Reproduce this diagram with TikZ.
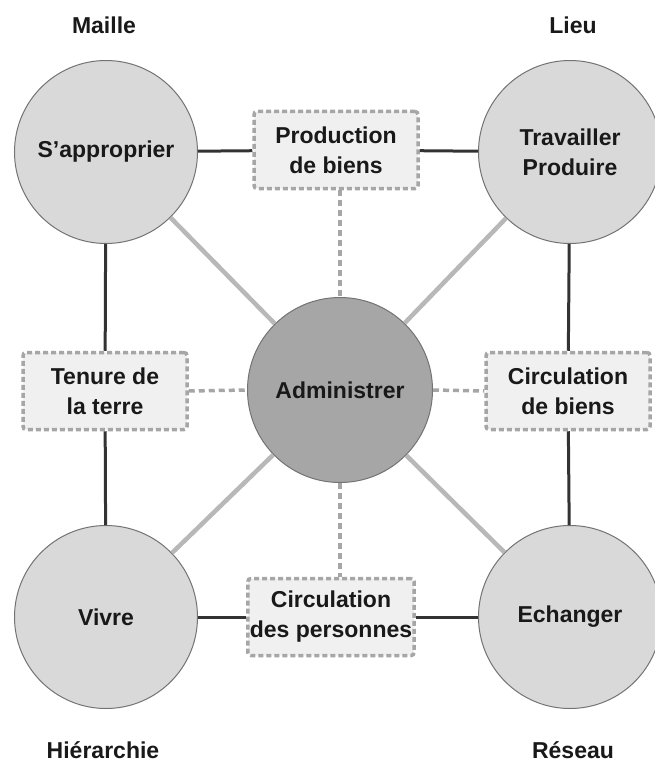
\documentclass[tikz,border=0pt]{standalone}
\usepackage{fontspec}
\setmainfont{Liberation Sans}
\begin{document}
\begin{tikzpicture}[x=1pt,y=-1pt,
  every node/.style={font=\fontsize{23}{30}\selectfont\bfseries, text=black!90},
  role/.style={circle, draw=black!55, line width=1pt, fill=black!15, minimum size=183pt, inner sep=0pt, align=center},
  core/.style={circle, draw=black!55, line width=1pt, fill=black!35, minimum size=185pt, inner sep=0pt, align=center},
  flowbox/.style={rectangle, rounded corners=3pt, draw=black!35, dash pattern=on 5pt off 3pt, line width=3.5pt, fill=black!6, minimum width=164pt, minimum height=77pt, inner sep=2pt, align=center},
  caption/.style={inner sep=0pt},
  solidlink/.style={draw=black!80, line width=3pt},
  spoke/.style={draw=black!28, line width=4.5pt},
  dashlink/.style={draw=black!35, line width=3.5pt, dash pattern=on 6pt off 4pt}
]
\useasboundingbox (0,0) rectangle (655,762);

% outer activities
\node[role] (sapp) at (106,152) {S'approprier};
\node[role] (trav) at (570,152) {Travailler\\Produire};
\node[role] (vivre) at (106,617) {Vivre};
\node[role] (ech) at (570,617) {Echanger};

% central activity
\node[core] (adm) at (340,390) {Administrer};

% flows between activities
\node[flowbox] (prod) at (336,150) {Production\\de biens};
\node[flowbox] (tenure) at (105,391) {Tenure de\\la terre};
\node[flowbox] (cbiens) at (568,391) {Circulation\\de biens};
\node[flowbox] (cpers) at (331,617) {Circulation\\des personnes};

% scale labels
\node[caption] (maille) at (104,25) {Maille};
\node[caption] (lieu) at (573,25) {Lieu};
\node[caption] (hier) at (103,750) {Hiérarchie};
\node[caption] (reseau) at (573,750) {Réseau};

% spokes to the centre
\path[spoke] (sapp) -- (adm);
\path[spoke] (trav) -- (adm);
\path[spoke] (vivre) -- (adm);
\path[spoke] (ech) -- (adm);

% solid links around the square
\path[solidlink] (sapp) -- (prod);
\path[solidlink] (prod) -- (trav);
\path[solidlink] (sapp) -- (tenure);
\path[solidlink] (tenure) -- (vivre);
\path[solidlink] (trav) -- (cbiens);
\path[solidlink] (cbiens) -- (ech);
\path[solidlink] (vivre) -- (cpers);
\path[solidlink] (cpers) -- (ech);

% dashed links from the flows to the centre
\path[dashlink] (prod.south -| adm) -- (adm.north);
\path[dashlink] (adm.south) -- (cpers.north -| adm);
\path[dashlink] (tenure.east) -- (adm.west);
\path[dashlink] (adm.east) -- (cbiens.west);
\end{tikzpicture}
\end{document}
